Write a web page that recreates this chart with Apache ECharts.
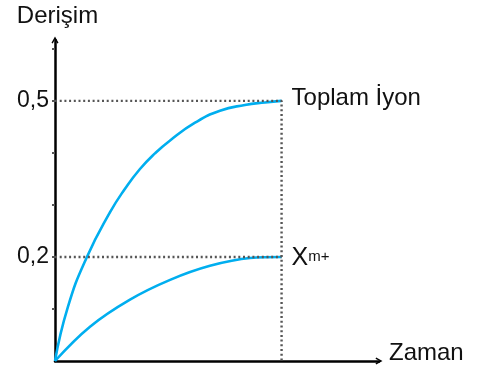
<!DOCTYPE html>
<html>
<head>
<meta charset="utf-8">
<script src="https://cdn.jsdelivr.net/npm/echarts@6/dist/echarts.min.js"></script>
<style>
  html, body { margin: 0; padding: 0; background: #fff; }
  #chart { width: 478px; height: 371px; }
</style>
</head>
<body>
<div id="chart"></div>
<script>
// Concentration vs. time: total ion and the X^m+ ion
const totalIon = [
  [0, 0], [0.57, 0.104], [1.41, 0.200], [2.43, 0.286], [3.09, 0.331],
  [3.75, 0.369], [4.41, 0.399], [5.08, 0.424], [6.18, 0.458],
  [7.28, 0.481], [8.38, 0.492], [9.27, 0.497], [10, 0.500]
];
const xIon = [
  [0, 0], [1.545, 0.066], [3.31, 0.118], [5.08, 0.156],
  [6.84, 0.183], [8.61, 0.198], [10, 0.200]
];
// dotted guide lines to the final levels
const guideTotal = [[0, 0.5], [10, 0.5], [10, 0]];
const guideX = [[0, 0.2], [10, 0.2]];

const yTickValues = [0.1, 0.2, 0.3, 0.4, 0.5, 0.6];
const yLabelValues = [0.2, 0.5];
const yLabelTexts = ['0,2', '0,5'];

const seriesNames = ['Toplam İyon', 'X'];
const axisNames = { x: 'Zaman', y: 'Derişim' };

const textColor = '#111';
const curveColor = '#00aeef';
const guideColor = '#555';
const fontFamily = 'Arial, "Liberation Sans", sans-serif';
// open arrow head for the axis ends
const chevron = 'path://M0,9 L5,0 L10,9 L8.2,10 L5,4 L1.8,10 Z';

const chart = echarts.init(document.getElementById('chart'), null, { renderer: 'canvas' });

const guideStyle = { color: guideColor, width: 2.4, type: [2, 2.7] };

chart.setOption({
  animation: false,
  backgroundColor: '#fff',
  grid: { left: 55, top: 40, width: 324, height: 321 },
  xAxis: {
    type: 'value', min: 0, max: 14.3,
    name: axisNames.x, nameLocation: 'end', nameGap: 10,
    nameTextStyle: { color: textColor, fontSize: 24, fontFamily: fontFamily, verticalAlign: 'bottom', lineHeight: 15 },
    axisLine: { lineStyle: { color: '#000', width: 2.5 }, symbol: ['none', chevron], symbolSize: [9, 7] },
    axisTick: { show: false }, axisLabel: { show: false }, splitLine: { show: false }
  },
  yAxis: {
    type: 'value', min: 0, max: 0.617,
    name: axisNames.y, nameLocation: 'end', nameGap: 12,
    nameTextStyle: { color: textColor, fontSize: 24, fontFamily: fontFamily, align: 'center', padding: [0, 0, 0, 5] },
    axisLine: { lineStyle: { color: '#000', width: 2.5 }, symbol: ['none', chevron], symbolSize: [9, 7] },
    axisTick: { show: true, length: 3, customValues: yTickValues, lineStyle: { color: guideColor, width: 2 } },
    axisLabel: {
      show: true, margin: 6, customValues: yLabelValues,
      color: textColor, fontSize: 23, fontFamily: fontFamily,
      formatter: function (v) {
        const i = yLabelValues.findIndex(function (u) { return Math.abs(u - v) < 1e-9; });
        return i >= 0 ? yLabelTexts[i] : '';
      }
    },
    splitLine: { show: false }
  },
  series: [
    {
      name: seriesNames[0], type: 'line', data: totalIon,
      smooth: 0.5, showSymbol: false,
      lineStyle: { color: curveColor, width: 2.6 },
      endLabel: {
        show: true, distance: 10, offset: [0, -2],
        color: textColor, fontSize: 24, fontFamily: fontFamily,
        formatter: seriesNames[0]
      }
    },
    {
      name: seriesNames[1], type: 'line', data: xIon,
      smooth: 0.4, showSymbol: false,
      lineStyle: { color: curveColor, width: 2.6 },
      endLabel: {
        show: true, distance: 10, offset: [0, 1],
        formatter: '{x|' + seriesNames[1] + '}{s|m+}',
        rich: {
          x: { color: textColor, fontSize: 25, lineHeight: 26, fontFamily: fontFamily },
          s: { color: textColor, fontSize: 15, lineHeight: 15, fontFamily: fontFamily, verticalAlign: 'top', padding: [4, 0, 0, 0] }
        }
      }
    },
    {
      type: 'line', data: guideTotal, showSymbol: false, silent: true,
      lineStyle: guideStyle, z: 3
    },
    {
      type: 'line', data: guideX, showSymbol: false, silent: true,
      lineStyle: guideStyle, z: 3
    }
  ]
});
</script>
</body>
</html>
